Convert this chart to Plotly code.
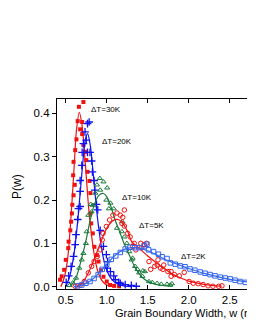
import plotly.graph_objects as go

# ---- data ----
# dT = 30K (filled squares)
x30 = [0.43,0.45,0.48,0.50,0.53,0.535,0.555,0.565,0.575,0.58,0.595,0.61,0.59,0.595,0.615,0.63,0.645,0.66,0.675,0.70,0.70,0.715,0.715,0.735,0.75,0.765,0.79,0.80,0.80,0.81,0.83,0.85,0.88,0.90,0.93,0.96,1.00,1.04,1.09,1.15]
y30 = [0.016,0.024,0.039,0.062,0.089,0.104,0.13,0.15,0.169,0.189,0.211,0.235,0.257,0.288,0.315,0.34,0.382,0.415,0.363,0.38,0.352,0.426,0.327,0.311,0.292,0.265,0.244,0.216,0.169,0.146,0.123,0.092,0.073,0.058,0.038,0.023,0.012,0.004,0.002,0.001]
fx30 = [0.44,0.48,0.52,0.56,0.60,0.63,0.665,0.70,0.74,0.78,0.82,0.86,0.90,0.95,1.00,1.08]
fy30 = [0.0,0.02,0.06,0.15,0.27,0.36,0.402,0.37,0.28,0.18,0.11,0.06,0.03,0.012,0.004,0.0]

# dT = 20K (crosses)
x20 = [0.505,0.535,0.565,0.595,0.615,0.625,0.645,0.655,0.675,0.675,0.675,0.695,0.70,0.715,0.735,0.765,0.785,0.75,0.765,0.795,0.815,0.825,0.845,0.855,0.875,0.89,0.92,0.96,0.995,1.005,1.01,1.045,1.085,1.105,1.145,1.165,1.225,1.30,1.36]
y20 = [0.01,0.025,0.047,0.07,0.097,0.12,0.155,0.18,0.185,0.22,0.245,0.28,0.31,0.33,0.357,0.376,0.38,0.338,0.31,0.31,0.29,0.265,0.245,0.223,0.19,0.177,0.13,0.093,0.074,0.043,0.058,0.035,0.025,0.016,0.01,0.008,0.005,0.003,0.001]
fx20 = [0.50,0.55,0.60,0.65,0.70,0.74,0.766,0.80,0.84,0.88,0.92,0.96,1.00,1.05,1.10,1.18,1.30]
fy20 = [0.0,0.025,0.075,0.16,0.27,0.34,0.353,0.325,0.25,0.17,0.11,0.065,0.038,0.02,0.01,0.003,0.0]

# dT = 10K (open triangles)
x10 = [0.545,0.585,0.625,0.665,0.695,0.715,0.745,0.755,0.775,0.805,0.815,0.83,0.86,0.88,0.915,0.92,0.96,0.995,1.005,1.025,1.045,1.085,1.125,1.185,1.19,1.215,1.245,1.275,1.305,1.315,1.345,1.375,1.395,1.435,1.44,1.465,1.515,1.555,1.615,1.665,1.735,1.775,1.795]
y10 = [0.003,0.009,0.02,0.043,0.062,0.077,0.10,0.127,0.165,0.19,0.173,0.188,0.216,0.235,0.25,0.223,0.242,0.20,0.228,0.18,0.193,0.18,0.135,0.127,0.15,0.115,0.10,0.081,0.062,0.066,0.047,0.04,0.032,0.024,0.037,0.035,0.012,0.01,0.008,0.006,0.006,0.004,0.007]
fx10 = [0.55,0.62,0.70,0.75,0.80,0.85,0.90,0.96,1.00,1.05,1.10,1.16,1.21,1.27,1.35,1.46,1.60,1.80]
fy10 = [0.0,0.018,0.07,0.11,0.155,0.19,0.21,0.215,0.208,0.185,0.155,0.125,0.10,0.075,0.043,0.017,0.005,0.001]

# dT = 5K (open circles)
x5 = [0.615,0.675,0.725,0.775,0.815,0.845,0.885,0.92,0.945,0.955,0.995,1.035,1.075,1.125,1.165,1.195,1.215,1.185,1.215,1.255,1.285,1.315,1.335,1.355,1.415,1.425,1.455,1.485,1.515,1.535,1.585,1.615,1.625,1.655,1.685,1.695,1.745,1.785,1.785,1.825,1.885,1.945,2.005,2.055,2.115,2.175,2.235,2.295,2.365,2.405]
y5 = [0.001,0.003,0.012,0.032,0.047,0.058,0.07,0.085,0.108,0.123,0.139,0.154,0.165,0.17,0.165,0.16,0.177,0.146,0.14,0.123,0.115,0.093,0.10,0.085,0.10,0.09,0.097,0.10,0.058,0.04,0.047,0.05,0.062,0.043,0.04,0.05,0.035,0.024,0.035,0.028,0.025,0.033,0.012,0.008,0.007,0.005,0.002,0.001,0.001,0.002]
fx5 = [0.62,0.70,0.80,0.90,1.00,1.08,1.14,1.20,1.26,1.30,1.40,1.50,1.60,1.70,1.80,1.90,2.00,2.20,2.40]
fy5 = [0.0,0.008,0.042,0.09,0.135,0.153,0.155,0.145,0.125,0.105,0.088,0.071,0.056,0.042,0.029,0.02,0.013,0.005,0.001]

# dT = 2K (open squares)
x2 = [0.645,0.695,0.745,0.795,0.845,0.895,0.945,1.00,1.055,1.11,1.165,1.225,1.285,1.34,1.395,1.46,1.49,1.51,1.57,1.63,1.675,1.735,1.775,1.835,1.895,1.955,2.015,2.075,2.14,2.20,2.26,2.32,2.385,2.445,2.505,2.565,2.625,2.69,2.75,2.81]
y2 = [0.002,0.004,0.008,0.012,0.019,0.028,0.04,0.052,0.063,0.071,0.079,0.087,0.091,0.09,0.09,0.094,0.098,0.085,0.081,0.075,0.069,0.065,0.055,0.052,0.048,0.046,0.041,0.038,0.034,0.031,0.028,0.025,0.022,0.02,0.018,0.015,0.012,0.01,0.008,0.007]
fx2 = [0.60,0.70,0.80,0.90,1.00,1.10,1.20,1.30,1.40,1.50,1.60,1.70,1.80,1.90,2.00,2.20,2.40,2.60,2.80]
fy2 = [0.0,0.004,0.013,0.03,0.052,0.072,0.085,0.09,0.089,0.083,0.074,0.064,0.056,0.049,0.042,0.03,0.021,0.014,0.009]

labels = ["\u0394T=30K", "\u0394T=20K", "\u0394T=10K", "\u0394T=5K", "\u0394T=2K"]
x_ticks = [0.5, 1.0, 1.5, 2.0, 2.5]
y_ticks = [0.0, 0.1, 0.2, 0.3, 0.4]

RED = "#f01010"
BLUE = "#1010f0"
GREEN = "#1a7a3c"
LBLUE = "#3366ee"

series = [
    (x30, y30, fx30, fy30, RED, dict(symbol="square", size=4, color=RED)),
    (x20, y20, fx20, fy20, BLUE, dict(symbol="cross-thin", size=5.5, color=BLUE, line=dict(width=1.3, color=BLUE))),
    (x10, y10, fx10, fy10, GREEN, dict(symbol="triangle-up-open", size=4.5, color=GREEN, line=dict(width=1))),
    (x5, y5, fx5, fy5, RED, dict(symbol="circle-open", size=4.5, color=RED, line=dict(width=1))),
    (x2, y2, fx2, fy2, LBLUE, dict(symbol="square-open", size=4.5, color=LBLUE, line=dict(width=1))),
]

fig = go.Figure()
for xs, ys, fx, fy, col, mk in series:
    fig.add_trace(go.Scatter(x=fx, y=fy, mode="lines", line=dict(color=col, width=1.2, shape="spline", smoothing=0.8),
                             showlegend=False, hoverinfo="skip"))
    fig.add_trace(go.Scatter(x=xs, y=ys, mode="markers", marker=mk, showlegend=False))

FONT = "Liberation Sans, Arial, sans-serif"

# page has an 8px body margin: figure coords = page coords - 8
L, T, B, W, H = 49, 91, 281, 247, 322
PW, PH = W - L, B - T

lab_pos = [(0.78, 0.408), (0.915, 0.335), (1.16, 0.206), (1.37, 0.142), (1.88, 0.069)]
for (lx, ly), t in zip(lab_pos, labels):
    fig.add_annotation(x=lx, y=ly, text=t, showarrow=False, xanchor="left", yanchor="middle",
                       font=dict(family=FONT, size=8, color="black"))

fig.add_annotation(xref="paper", yref="paper", x=(105 - L) / PW, y=-(305 - B) / PH,
                   text="Grain Boundary Width, w (nm)", showarrow=False, xanchor="left", yanchor="middle",
                   font=dict(family=FONT, size=11, color="black"))
fig.add_annotation(xref="paper", yref="paper", x=(9 - L) / PW, y=(B - 179) / PH,
                   text="P(w)", showarrow=False, textangle=-90, xanchor="center", yanchor="middle",
                   font=dict(family=FONT, size=12, color="black"))

fig.update_layout(
    width=W, height=H,
    margin=dict(l=L, r=0, t=T, b=H - B),
    plot_bgcolor="white", paper_bgcolor="white",
    font=dict(family=FONT, size=11, color="black"),
)
fig.update_xaxes(range=[0.393, 2.808], tickvals=x_ticks, ticktext=[f"{v:.1f}" for v in x_ticks],
                 showgrid=False, zeroline=False, showline=True, linecolor="black", linewidth=1.3,
                 ticks="inside", ticklen=4, tickcolor="black", mirror="ticks",
                 tickfont=dict(family=FONT, size=11.5))
fig.update_yaxes(range=[-0.0053, 0.433], tickvals=y_ticks, ticktext=[f"{v:.1f}" for v in y_ticks],
                 showgrid=False, zeroline=False, showline=True, linecolor="black", linewidth=1.3,
                 ticks="outside", ticklen=4, tickcolor="black",
                 tickfont=dict(family=FONT, size=11.5))

fig.write_html("out.html", config={"displayModeBar": False})
